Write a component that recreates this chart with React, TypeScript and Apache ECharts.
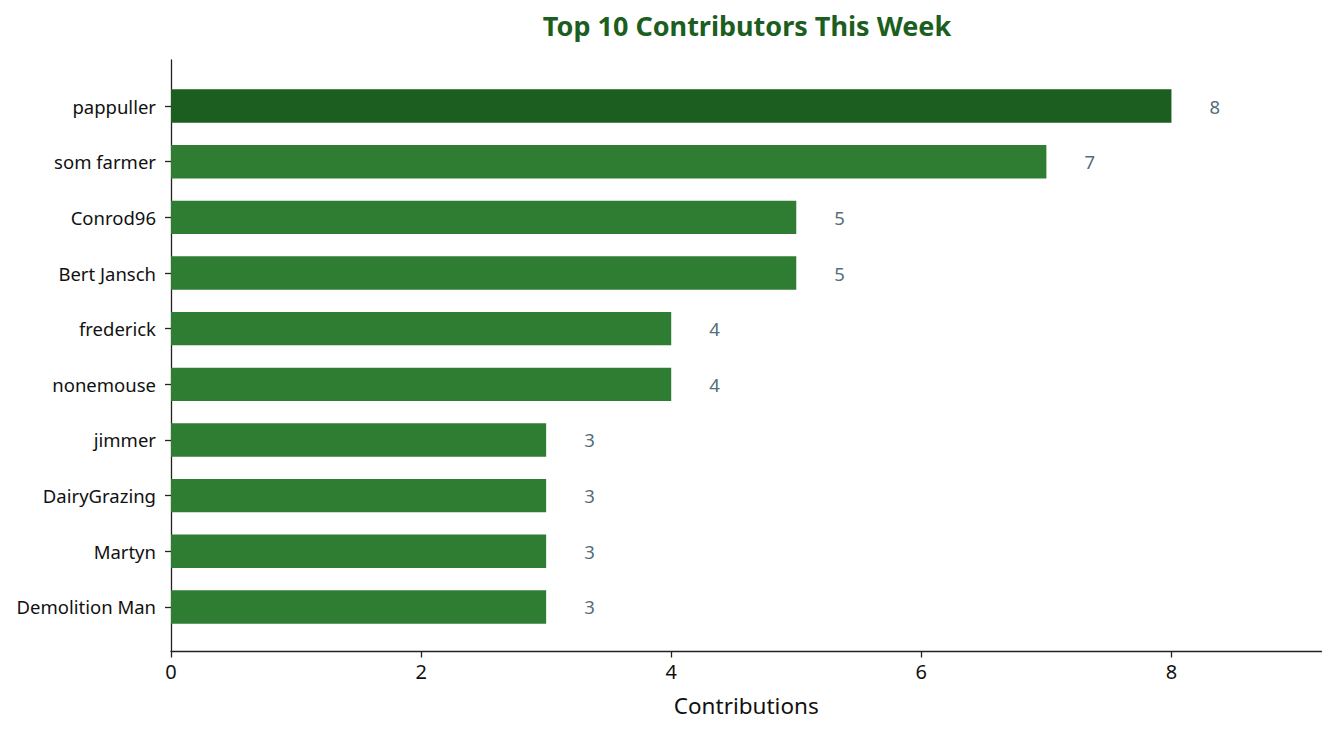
import React, { useEffect, useRef } from "react";
import * as echarts from "echarts";

const contributors = [
  "pappuller",
  "som farmer",
  "Conrod96",
  "Bert Jansch",
  "frederick",
  "nonemouse",
  "jimmer",
  "DairyGrazing",
  "Martyn",
  "Demolition Man",
];
const contributions = [8, 7, 5, 5, 4, 4, 3, 3, 3, 3];
const xTicks = [0, 2, 4, 6, 8];
const xMax = 9.2;

const TOP_COLOR = "#1b5e20";
const BAR_COLOR = "#2e7d32";
const LABEL_COLOR = "#546e7a";
const SPINE = "#222222";
const FONT = "Noto Sans";

export default function App() {
  const ref = useRef<HTMLDivElement>(null);
  useEffect(() => {
    if (!ref.current) return;
    const chart = echarts.init(ref.current, null, { renderer: "svg" });
    const maxVal = Math.max(...contributions);
    chart.setOption({
      animation: false,
      backgroundColor: "#ffffff",
      title: {
        text: "Top 10 Contributors This Week",
        left: 742,
        top: 7,
        textAlign: "center",
        textStyle: { fontFamily: FONT, fontSize: 27, fontWeight: "bold", color: TOP_COLOR },
      },
      grid: [
        { left: 171, right: 13.5, top: 60, bottom: 83.5 },
        { left: 171, right: 13.5, top: 78.2, bottom: 100.2 },
      ],
      xAxis: [
        {
          gridIndex: 0,
          type: "value",
          min: 0,
          max: xMax,
          axisLine: { show: true, onZero: false, lineStyle: { color: SPINE, width: 1.3 } },
          axisTick: { show: true, customValues: xTicks, length: 6, lineStyle: { color: SPINE, width: 1.3 } },
          axisLabel: {
            customValues: xTicks,
            margin: 10,
            fontFamily: FONT,
            fontSize: 20,
            color: "#111111",
          },
          splitLine: { show: false },
          name: "Contributions",
          nameLocation: "middle",
          nameGap: 42,
          nameTextStyle: { fontFamily: FONT, fontSize: 22.5, color: "#111111" },
        },
        { gridIndex: 1, type: "value", min: 0, max: xMax, show: false },
      ],
      yAxis: [
        {
          gridIndex: 0,
          type: "value",
          min: 0,
          max: 1,
          axisLine: { show: true, onZero: false, lineStyle: { color: SPINE, width: 1.3 } },
          axisTick: { show: false },
          axisLabel: { show: false },
          splitLine: { show: false },
        },
        {
          gridIndex: 1,
          type: "category",
          data: contributors,
          inverse: true,
          axisLine: { show: false },
          axisTick: { show: true, alignWithLabel: true, length: 6, lineStyle: { color: SPINE, width: 1.3 } },
          axisLabel: { margin: 15, fontFamily: FONT, fontSize: 18.5, color: "#111111" },
          splitLine: { show: false },
        },
      ],
      series: [
        {
          type: "bar",
          xAxisIndex: 1,
          yAxisIndex: 1,
          barWidth: "60%",
          data: contributions.map((v) => ({
            value: v,
            itemStyle: { color: v === maxVal ? TOP_COLOR : BAR_COLOR },
          })),
          label: {
            show: true,
            position: "right",
            distance: 38,
            fontFamily: FONT,
            fontSize: 18.5,
            color: LABEL_COLOR,
          },
        },
      ],
    });
    return () => chart.dispose();
  }, []);
  return <div ref={ref} style={{ width: 1335, height: 735, position: "absolute", left: 0, top: 0 }} />;
}
